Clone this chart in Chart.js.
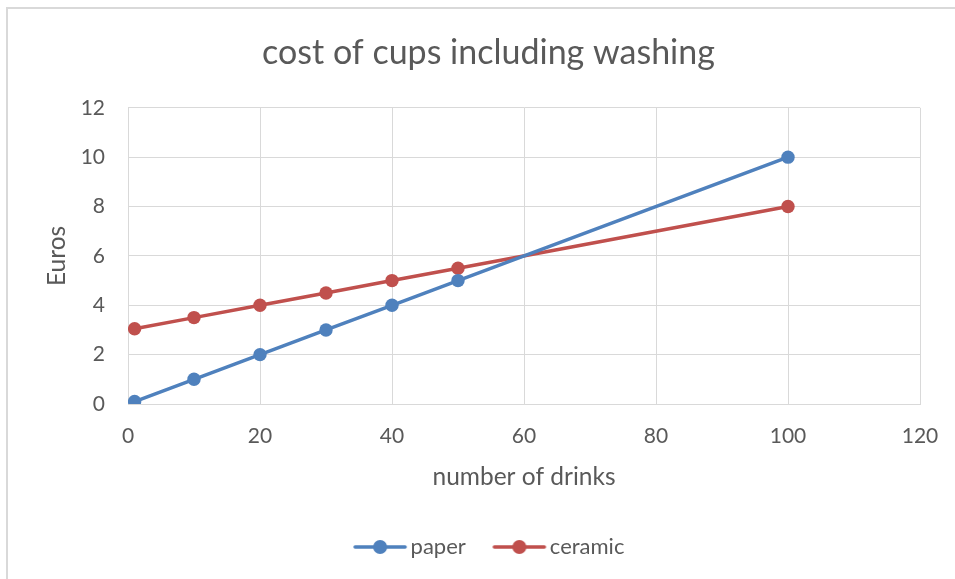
<!DOCTYPE html>
<html>
<head>
<meta charset="utf-8">
<script src="https://cdn.jsdelivr.net/npm/chart.js@4.4.0/dist/chart.umd.min.js"></script>
<style>
  html, body { margin: 0; padding: 0; background: #ffffff; }
  #wrap { width: 955px; height: 579px; position: relative; }
</style>
</head>
<body>
<div id="wrap"><canvas id="c" width="955" height="579"></canvas></div>
<script>
// Cost of cups (euros) by number of drinks served
const drinks = [1, 10, 20, 30, 40, 50, 100];
const paperCost = [0.1, 1, 2, 3, 4, 5, 10];
const ceramicCost = [3.05, 3.5, 4, 4.5, 5, 5.5, 8];
const seriesNames = ['paper', 'ceramic'];
const seriesColors = ['#4F81BD', '#C0504D'];
const xTicks = [0, 20, 40, 60, 80, 100, 120];
const yTicks = [0, 2, 4, 6, 8, 10, 12];

const chartTitle = 'cost of cups including washing';
const xTitle = 'number of drinks';
const yTitle = 'Euros';

const TEXT = '#595959';
const GRID = '#D9D9D9';
const FONT = 'Lato, "Open Sans", sans-serif';

const toPoints = (xs, ys) => xs.map((x, i) => ({ x: x, y: ys[i] }));

// Legend swatch: short line with a marker in the middle
// (drawn right of the image centre so the label sits close to it)
function legendSwatch(color) {
  const cv = document.createElement('canvas');
  cv.width = 68; cv.height = 16;
  const g = cv.getContext('2d');
  g.strokeStyle = color; g.lineWidth = 3.5; g.lineCap = 'round';
  g.beginPath(); g.moveTo(13, 8); g.lineTo(63, 8); g.stroke();
  g.fillStyle = color;
  g.beginPath(); g.arc(38, 8, 7, 0, Math.PI * 2); g.fill();
  return cv;
}
const swatches = seriesColors.map(legendSwatch);

// Outer frame along the top and left edges
const framePlugin = {
  id: 'frame',
  beforeDraw(chart) {
    const ctx = chart.ctx;
    ctx.save();
    ctx.fillStyle = '#ffffff';
    ctx.fillRect(0, 0, chart.width, chart.height);
    ctx.strokeStyle = GRID;
    ctx.lineWidth = 2;
    ctx.beginPath();
    ctx.moveTo(7, chart.height + 2);
    ctx.lineTo(7, 8);
    ctx.lineTo(chart.width + 2, 8);
    ctx.stroke();
    ctx.restore();
  }
};

const ds = (i, ys) => ({
  label: seriesNames[i],
  data: toPoints(drinks, ys),
  borderColor: seriesColors[i],
  backgroundColor: seriesColors[i],
  borderWidth: 3.5,
  pointRadius: 6.7,
  pointHoverRadius: 6.7,
  pointBorderWidth: 0,
  pointBackgroundColor: seriesColors[i],
  showLine: true,
  tension: 0,
  pointStyle: 'circle'
});

new Chart(document.getElementById('c'), {
  type: 'scatter',
  data: { datasets: [ds(0, paperCost), ds(1, ceramicCost)] },
  plugins: [framePlugin],
  options: {
    responsive: false,
    animation: false,
    devicePixelRatio: 1,
    events: [],
    layout: { padding: { left: 54, right: 32, top: 0, bottom: 11 } },
    plugins: {
      tooltip: { enabled: false },
      title: {
        display: true,
        text: chartTitle,
        color: TEXT,
        font: { family: FONT, size: 34, weight: 'normal' },
        padding: { top: 33, bottom: 34 }
      },
      legend: {
        position: 'bottom',
        labels: {
          color: TEXT,
          font: { family: FONT, size: 22 },
          usePointStyle: true,
          pointStyleWidth: 47,
          padding: 26,
          generateLabels(chart) {
            const items = Chart.defaults.plugins.legend.labels.generateLabels(chart);
            items.forEach((it, i) => { it.pointStyle = swatches[i]; });
            return items;
          }
        }
      }
    },
    scales: {
      x: {
        type: 'linear',
        min: xTicks[0],
        max: xTicks[xTicks.length - 1],
        afterBuildTicks(scale) { scale.ticks = xTicks.map(v => ({ value: v })); },
        afterFit(scale) {
          scale.height = 106;
          scale.paddingLeft = 0;
          scale.paddingRight = 35;
        },
        grid: { color: GRID, lineWidth: 1, drawTicks: false },
        border: { display: true, color: GRID, width: 1 },
        ticks: { color: TEXT, font: { family: FONT, size: 21 }, padding: 20 },
        title: {
          display: true, text: xTitle, color: TEXT,
          font: { family: FONT, size: 24.5 },
          padding: { top: 0, bottom: 18 }
        }
      },
      y: {
        type: 'linear',
        min: yTicks[0],
        max: yTicks[yTicks.length - 1],
        afterBuildTicks(scale) { scale.ticks = yTicks.map(v => ({ value: v })); },
        afterFit(scale) { scale.width = 74; },
        grid: { color: GRID, lineWidth: 1, drawTicks: false },
        border: { display: true, color: GRID, width: 1 },
        ticks: { color: TEXT, font: { family: FONT, size: 21 }, padding: 23 },
        title: {
          display: true, text: yTitle, color: TEXT,
          font: { family: FONT, size: 24.5 },
          padding: { top: -12, bottom: 0 }
        }
      }
    }
  }
});
</script>
</body>
</html>
